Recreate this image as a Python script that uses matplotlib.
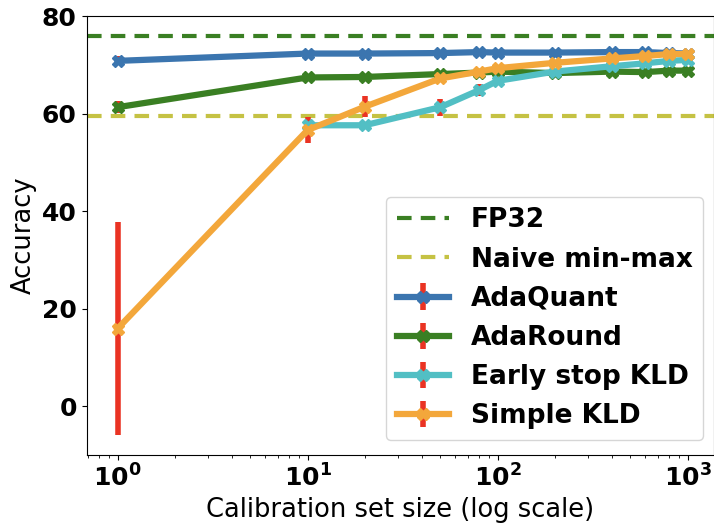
import numpy as np
import matplotlib
matplotlib.use("Agg")
import matplotlib.pyplot as plt

sizes = [1, 10, 20, 50, 80, 100, 200, 400, 600, 800, 1000]
fp32 = 76.0
naive = 59.5

adaquant = [70.8, 72.3, 72.3, 72.4, 72.6, 72.5, 72.5, 72.6, 72.6, 72.4, 72.3]
adaquant_err = [0.9, 0.3, 0.3, 0.3, 0.3, 0.3, 0.3, 0.3, 0.3, 0.3, 0.3]
adaround = [61.3, 67.4, 67.5, 68.1, 68.4, 68.6, 68.3, 68.6, 68.5, 68.8, 68.8]
adaround_err = [1.2, 0.4, 0.4, 0.3, 0.3, 0.3, 0.3, 0.3, 0.3, 0.3, 0.3]
early_kld = [None, 57.6, 57.6, 61.3, 64.8, 66.7, 68.6, 69.7, 70.3, 70.8, 71.0]
early_kld_err = [None, 1.0, 0.6, 1.7, 1.2, 0.7, 0.4, 0.3, 0.3, 0.3, 0.3]
simple_kld = [15.9, 56.6, 61.4, 67.2, 68.6, 69.3, 70.4, 71.3, 71.8, 72.2, 72.2]
simple_kld_err = [21.8, 2.7, 2.1, 0.6, 0.4, 0.4, 0.3, 0.3, 0.3, 0.3, 0.3]

W, H = 714, 523
fig = plt.figure(figsize=(W / 100, H / 100), dpi=100)
x0, x1 = 86.5, 714
y0, y1 = 455, 16
ax = fig.add_axes([x0 / W, 1 - y0 / H, (x1 - x0) / W, (y0 - y1) / H])

c_blue = '#3b75af'
c_green = '#3a7f23'
c_teal = '#52bfc4'
c_orange = '#f3a73b'
c_olive = '#c5c244'
c_red = '#ea3323'

ax.axhline(fp32, color=c_green, ls='--', lw=3, dashes=(3.5, 2.2), label='FP32')
ax.axhline(naive, color=c_olive, ls='--', lw=3, dashes=(3.5, 2.2), label='Naive min-max')

def series(vals, errs, color, label):
    xs = [s for s, v in zip(sizes, vals) if v is not None]
    ys = [v for v in vals if v is not None]
    es = [e for e, v in zip(errs, vals) if v is not None]
    ax.errorbar(xs, ys, yerr=es, color=color, ecolor=c_red, elinewidth=4,
                lw=4.5, marker='X', ms=8, label=label)

series(adaquant, adaquant_err, c_blue, 'AdaQuant')
series(adaround, adaround_err, c_green, 'AdaRound')
series(early_kld, early_kld_err, c_teal, 'Early stop KLD')
series(simple_kld, simple_kld_err, c_orange, 'Simple KLD')

ax.set_xscale('log')
ax.set_xlim(10 ** ((x0 - 117.5) / 190), 10 ** ((x1 - 117.5) / 190))
ax.set_ylim(-10, 80)
ax.set_yticks([0, 20, 40, 60, 80])
ax.set_xticks([1, 10, 100, 1000])

for lab in ax.get_xticklabels() + ax.get_yticklabels():
    lab.set_fontweight('bold')
ax.tick_params(axis='both', which='major', labelsize=18)
ax.set_xlabel('Calibration set size (log scale)', fontsize=18.5)
ax.set_ylabel('Accuracy', fontsize=18.5)

leg = ax.legend(loc='lower right', prop={'weight': 'bold', 'size': 19},
                bbox_to_anchor=((703 - x0) / (x1 - x0), (y0 - 440) / (y0 - y1)),
                borderaxespad=0)

fig.savefig('out.png', dpi=100)
